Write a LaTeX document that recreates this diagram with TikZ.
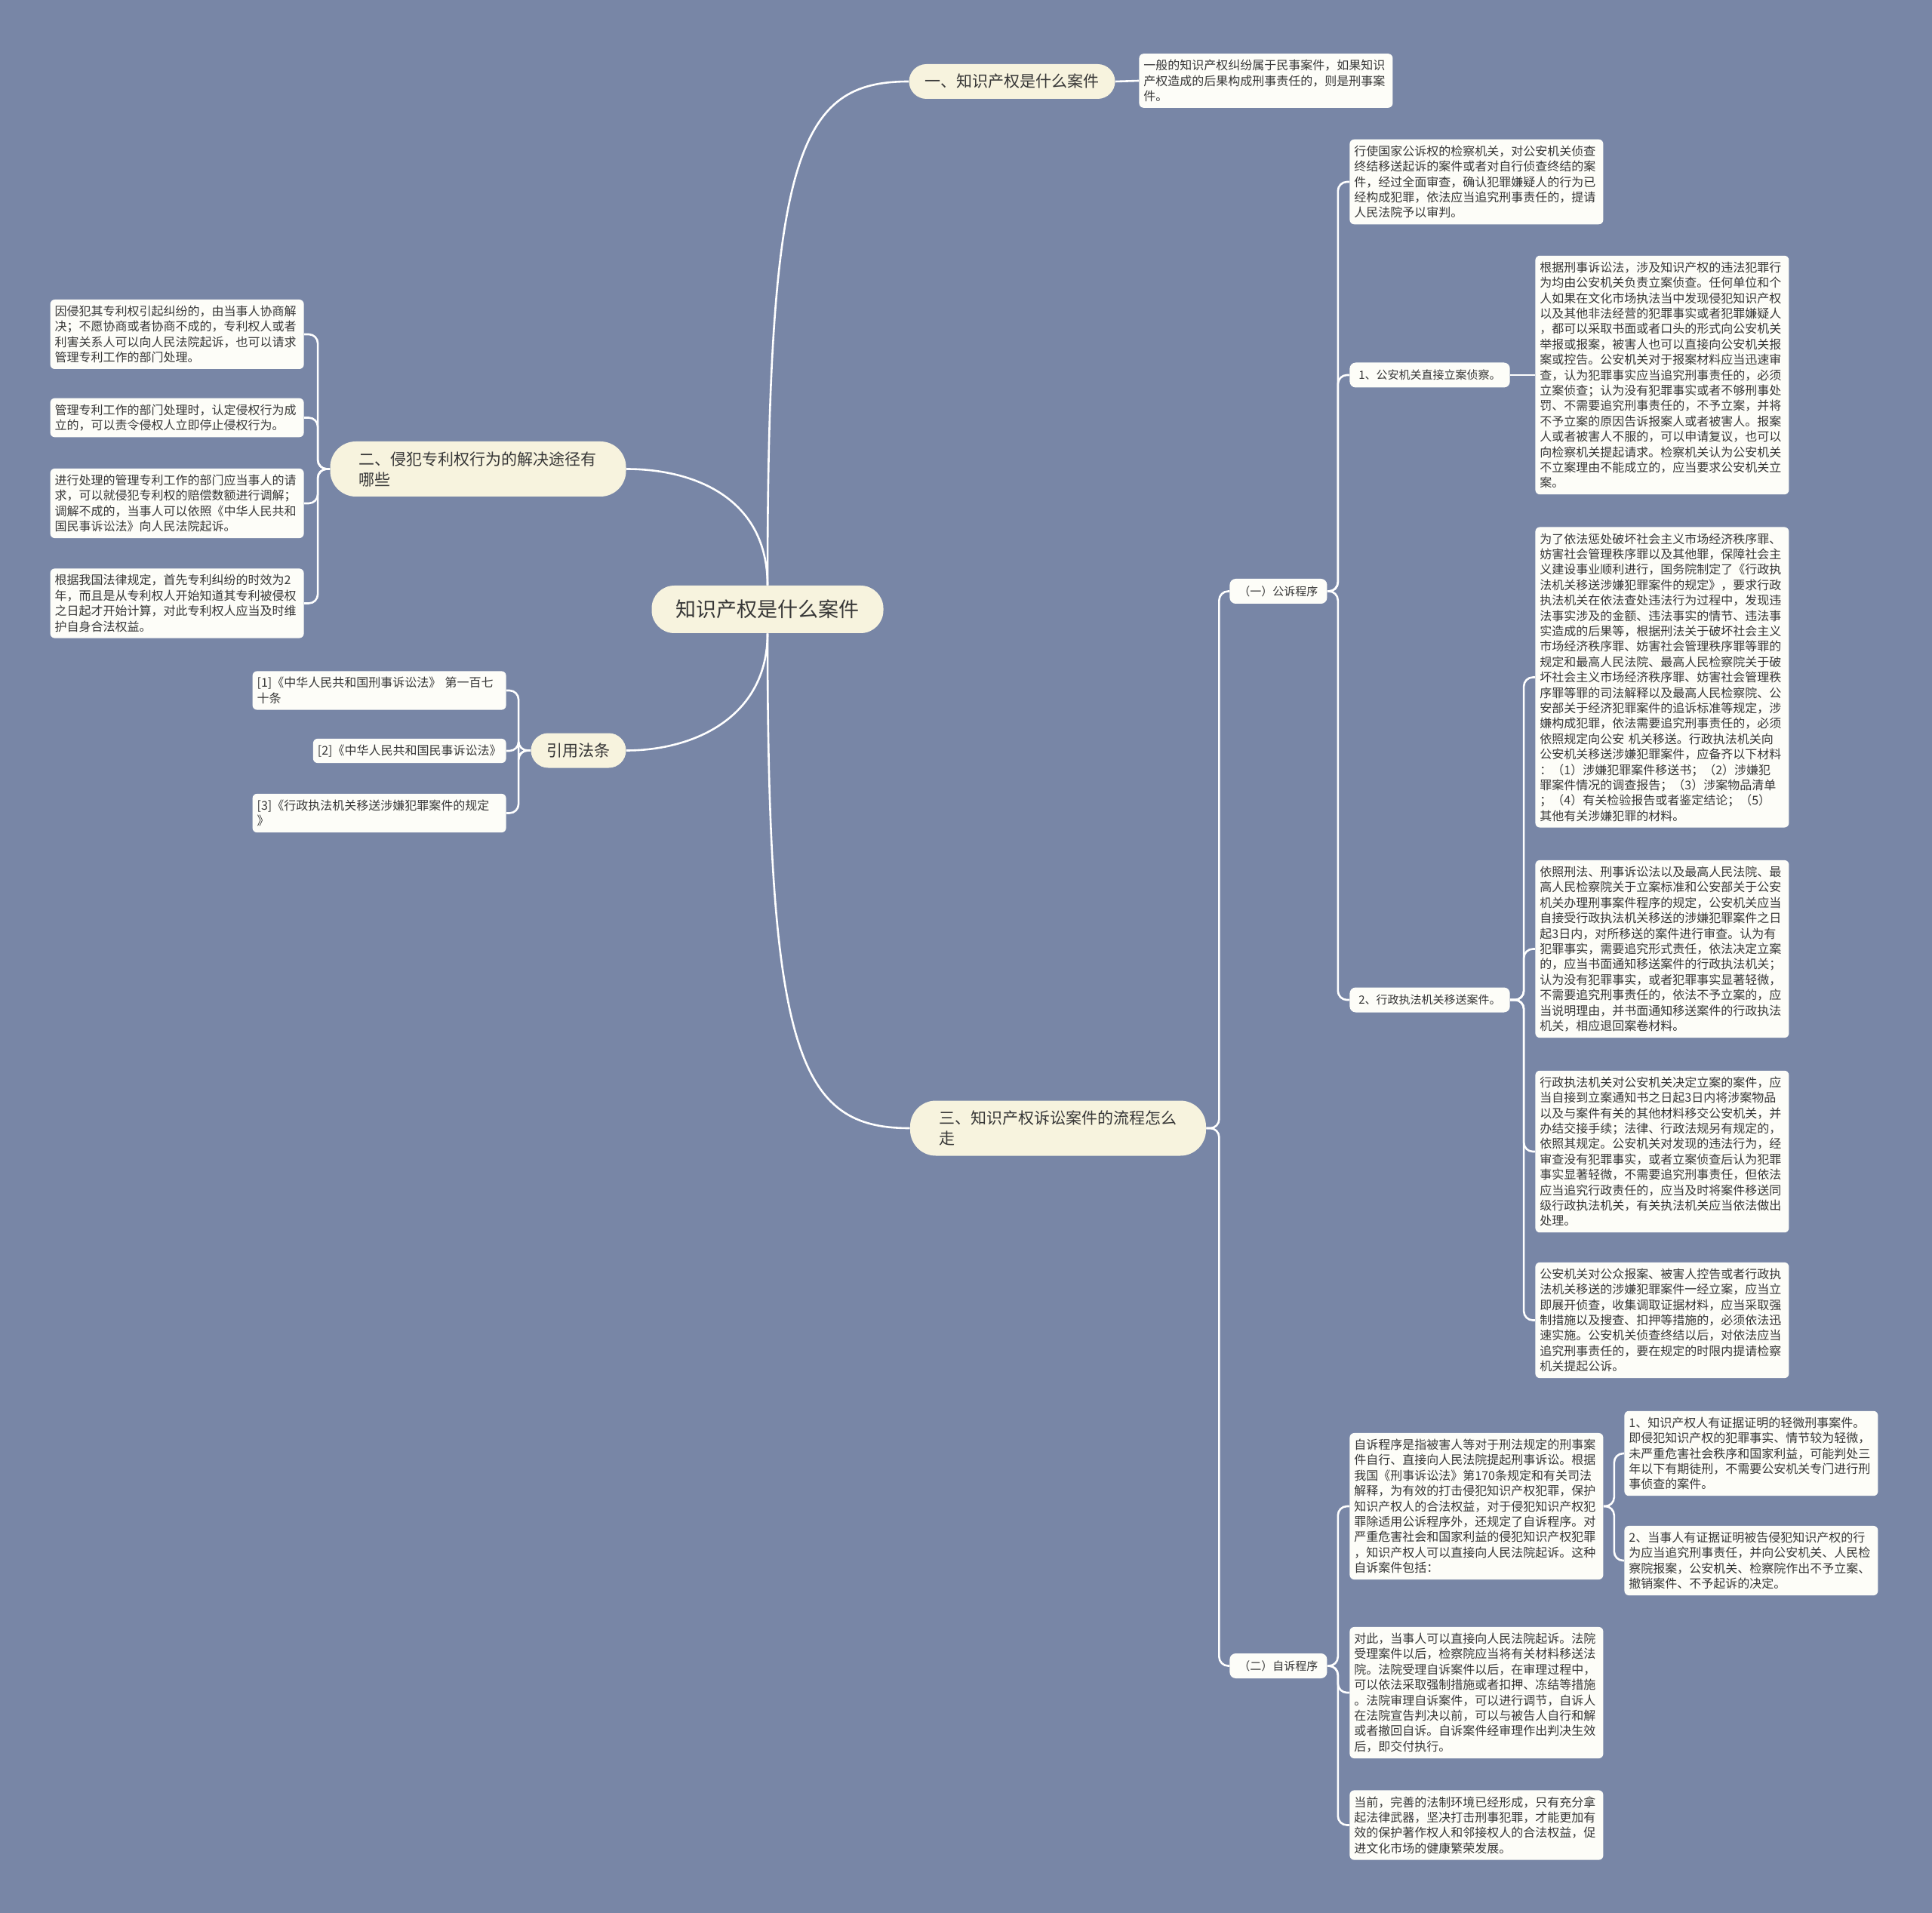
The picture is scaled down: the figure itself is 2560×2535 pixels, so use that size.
\documentclass[tikz,border=0pt]{standalone}
\usepackage{fontspec}
\setmainfont{Noto Sans CJK SC}
\usepackage{tikz}

\definecolor{bgc}{RGB}{120,134,166}
\definecolor{pillc}{RGB}{247,243,222}
\definecolor{cardc}{RGB}{253,253,248}
\definecolor{ink}{RGB}{55,55,55}

\tikzset{
  rootnode/.style={fill=pillc, rounded corners=15pt, text=ink, font=\fontsize{13.5}{16}\selectfont, inner xsep=16pt, minimum height=31.5pt},
  topic/.style={fill=pillc, rounded corners=11.5pt, text=ink, font=\fontsize{10.5}{13.5}\selectfont, inner xsep=10.5pt, minimum height=23pt},
  topictwo/.style={topic, rounded corners=17pt, text width=158pt, align=left, inner xsep=19pt, minimum height=36.5pt},
  subnode/.style={fill=cardc, rounded corners=4pt, text=ink, font=\fontsize{7.5}{9}\selectfont, inner xsep=6pt, minimum height=16.5pt},
  card/.style={fill=cardc, rounded corners=3pt, text=ink, font=\fontsize{8}{10.2}\selectfont, text width=162pt, align=left, inner xsep=3pt, inner ysep=4pt},
  link/.style={draw=white, line width=1.3pt, rounded corners=6pt}
}

\begin{document}
\begin{tikzpicture}[x=0.5pt, y=-0.5pt]

\path[use as bounding box, fill=bgc] (0,0) rectangle (2560,2535);

\node[rootnode] (root) at (1017,807.5) {知识产权是什么案件};

\node[topic] (l1a) at (1341,108) {一、知识产权是什么案件};
\node[card, anchor=west] (t1) at (1509,107) {一般的知识产权纠纷属于民事案件，如果知识\\产权造成的后果构成刑事责任的，则是刑事案\\件。};

\node[topictwo] (l1b) at (633.5,621.5) {二、侵犯专利权行为的解决途径有\\哪些};
\node[card, anchor=east] (b1) at (403,443) {因侵犯其专利权引起纠纷的，由当事人协商解\\决；不愿协商或者协商不成的，专利权人或者\\利害关系人可以向人民法院起诉，也可以请求\\管理专利工作的部门处理。};
\node[card, anchor=east] (b2) at (403,553.5) {管理专利工作的部门处理时，认定侵权行为成\\立的，可以责令侵权人立即停止侵权行为。};
\node[card, anchor=east] (b3) at (403,667) {进行处理的管理专利工作的部门应当事人的请\\求，可以就侵犯专利权的赔偿数额进行调解；\\调解不成的，当事人可以依照《中华人民共和\\国民事诉讼法》向人民法院起诉。};
\node[card, anchor=east] (b4) at (403,799.5) {根据我国法律规定，首先专利纠纷的时效为2\\年，而且是从专利权人开始知道其专利被侵权\\之日起才开始计算，对此专利权人应当及时维\\护自身合法权益。};

\node[topic] (l1c) at (766.5,994.5) {引用法条};
\node[card, anchor=east] (c1) at (671,915) {[1]《中华人民共和国刑事诉讼法》~第一百七\\十条};
\node[card, text width=, anchor=east] (c2) at (671,995) {[2]《中华人民共和国民事诉讼法》};
\node[card, anchor=east] (c3) at (671,1077.5) {[3]《行政执法机关移送涉嫌犯罪案件的规定\\》};

\node[topictwo] (l1d) at (1402,1495) {三、知识产权诉讼案件的流程怎么\\走};

\node[subnode, anchor=west] (p1) at (1629,783.5) {（一）公诉程序};
\node[card, anchor=west] (q1) at (1788,241) {行使国家公诉权的检察机关，对公安机关侦查\\终结移送起诉的案件或者对自行侦查终结的案\\件，经过全面审查，确认犯罪嫌疑人的行为已\\经构成犯罪，依法应当追究刑事责任的，提请\\人民法院予以审判。};
\node[subnode, anchor=west] (q2) at (1788,497) {1、公安机关直接立案侦察。};
\node[card, anchor=west] (r1) at (2034,497) {根据刑事诉讼法，涉及知识产权的违法犯罪行\\为均由公安机关负责立案侦查。任何单位和个\\人如果在文化市场执法当中发现侵犯知识产权\\以及其他非法经营的犯罪事实或者犯罪嫌疑人\\，都可以采取书面或者口头的形式向公安机关\\举报或报案，被害人也可以直接向公安机关报\\案或控告。公安机关对于报案材料应当迅速审\\查，认为犯罪事实应当追究刑事责任的，必须\\立案侦查；认为没有犯罪事实或者不够刑事处\\罚、不需要追究刑事责任的，不予立案，并将\\不予立案的原因告诉报案人或者被害人。报案\\人或者被害人不服的，可以申请复议，也可以\\向检察机关提起请求。检察机关认为公安机关\\不立案理由不能成立的，应当要求公安机关立\\案。};
\node[subnode, anchor=west] (q3) at (1788,1325) {2、行政执法机关移送案件。};
\node[card, anchor=west] (r2) at (2034,897.5) {为了依法惩处破坏社会主义市场经济秩序罪、\\妨害社会管理秩序罪以及其他罪，保障社会主\\义建设事业顺利进行，国务院制定了《行政执\\法机关移送涉嫌犯罪案件的规定》，要求行政\\执法机关在依法查处违法行为过程中，发现违\\法事实涉及的金额、违法事实的情节、违法事\\实造成的后果等，根据刑法关于破坏社会主义\\市场经济秩序罪、妨害社会管理秩序罪等罪的\\规定和最高人民法院、最高人民检察院关于破\\坏社会主义市场经济秩序罪、妨害社会管理秩\\序罪等罪的司法解释以及最高人民检察院、公\\安部关于经济犯罪案件的追诉标准等规定，涉\\嫌构成犯罪，依法需要追究刑事责任的，必须\\依照规定向公安~机关移送。行政执法机关向\\公安机关移送涉嫌犯罪案件，应备齐以下材料\\：（1）涉嫌犯罪案件移送书；（2）涉嫌犯\\罪案件情况的调查报告；（3）涉案物品清单\\；（4）有关检验报告或者鉴定结论；（5）\\其他有关涉嫌犯罪的材料。};
\node[card, anchor=west] (r3) at (2034,1257.5) {依照刑法、刑事诉讼法以及最高人民法院、最\\高人民检察院关于立案标准和公安部关于公安\\机关办理刑事案件程序的规定，公安机关应当\\自接受行政执法机关移送的涉嫌犯罪案件之日\\起3日内，对所移送的案件进行审查。认为有\\犯罪事实，需要追究形式责任，依法决定立案\\的，应当书面通知移送案件的行政执法机关；\\认为没有犯罪事实，或者犯罪事实显著轻微，\\不需要追究刑事责任的，依法不予立案的，应\\当说明理由，并书面通知移送案件的行政执法\\机关，相应退回案卷材料。};
\node[card, anchor=west] (r4) at (2034,1526) {行政执法机关对公安机关决定立案的案件，应\\当自接到立案通知书之日起3日内将涉案物品\\以及与案件有关的其他材料移交公安机关，并\\办结交接手续；法律、行政法规另有规定的，\\依照其规定。公安机关对发现的违法行为，经\\审查没有犯罪事实，或者立案侦查后认为犯罪\\事实显著轻微，不需要追究刑事责任，但依法\\应当追究行政责任的，应当及时将案件移送同\\级行政执法机关，有关执法机关应当依法做出\\处理。};
\node[card, anchor=west] (r5) at (2034,1749.5) {公安机关对公众报案、被害人控告或者行政执\\法机关移送的涉嫌犯罪案件一经立案，应当立\\即展开侦查，收集调取证据材料，应当采取强\\制措施以及搜查、扣押等措施的，必须依法迅\\速实施。公安机关侦查终结以后，对依法应当\\追究刑事责任的，要在规定的时限内提请检察\\机关提起公诉。};

\node[subnode, anchor=west] (p2) at (1629,2207.5) {（二）自诉程序};
\node[card, anchor=west] (s1) at (1788,1996) {自诉程序是指被害人等对于刑法规定的刑事案\\件自行、直接向人民法院提起刑事诉讼。根据\\我国《刑事诉讼法》第170条规定和有关司法\\解释，为有效的打击侵犯知识产权犯罪，保护\\知识产权人的合法权益，对于侵犯知识产权犯\\罪除适用公诉程序外，还规定了自诉程序。对\\严重危害社会和国家利益的侵犯知识产权犯罪\\，知识产权人可以直接向人民法院起诉。这种\\自诉案件包括：};
\node[card, anchor=west] (u1) at (2152,1926) {1、知识产权人有证据证明的轻微刑事案件。\\即侵犯知识产权的犯罪事实、情节较为轻微，\\未严重危害社会秩序和国家利益，可能判处三\\年以下有期徒刑，不需要公安机关专门进行刑\\事侦查的案件。};
\node[card, anchor=west] (u2) at (2152,2068) {2、当事人有证据证明被告侵犯知识产权的行\\为应当追究刑事责任，并向公安机关、人民检\\察院报案，公安机关、检察院作出不予立案、\\撤销案件、不予起诉的决定。};
\node[card, anchor=west] (s2) at (1788,2243) {对此，当事人可以直接向人民法院起诉。法院\\受理案件以后，检察院应当将有关材料移送法\\院。法院受理自诉案件以后，在审理过程中，\\可以依法采取强制措施或者扣押、冻结等措施\\。法院审理自诉案件，可以进行调节，自诉人\\在法院宣告判决以前，可以与被告人自行和解\\或者撤回自诉。自诉案件经审理作出判决生效\\后，即交付执行。};
\node[card, anchor=west] (s3) at (1788,2418.5) {当前，完善的法制环境已经形成，只有充分拿\\起法律武器，坚决打击刑事犯罪，才能更加有\\效的保护著作权人和邻接权人的合法权益，促\\进文化市场的健康繁荣发展。};

\draw[link] (root.north) .. controls (1017,200) and (1060,108) .. (l1a.west);
\draw[link] (root.north) .. controls (1017,660) and (920,621.5) .. (l1b.east);
\draw[link] (root.south) .. controls (1017,950) and (920,994.5) .. (l1c.east);
\draw[link] (root.south) .. controls (1017,1400) and (1060,1495) .. (l1d.west);

\draw[link] (l1a.east) -- (t1.west);
\foreach \c in {b1,b2,b3,b4}
  \draw[link] (l1b.west) -- ++(-16,0) |- (\c.east);
\foreach \c in {c1,c2,c3}
  \draw[link] (l1c.west) -- ++(-16,0) |- (\c.east);
\foreach \c in {p1,p2}
  \draw[link] (l1d.east) -- ++(17,0) |- (\c.west);
\foreach \c in {q1,q2,q3}
  \draw[link] (p1.east) -- ++(14,0) |- (\c.west);
\draw[link] (q2.east) -- (r1.west);
\foreach \c in {r2,r3,r4,r5}
  \draw[link] (q3.east) -- ++(18,0) |- (\c.west);
\foreach \c in {s1,s2,s3}
  \draw[link] (p2.east) -- ++(14,0) |- (\c.west);
\foreach \c in {u1,u2}
  \draw[link] (s1.east) -- ++(14,0) |- (\c.west);

\end{tikzpicture}
\end{document}
